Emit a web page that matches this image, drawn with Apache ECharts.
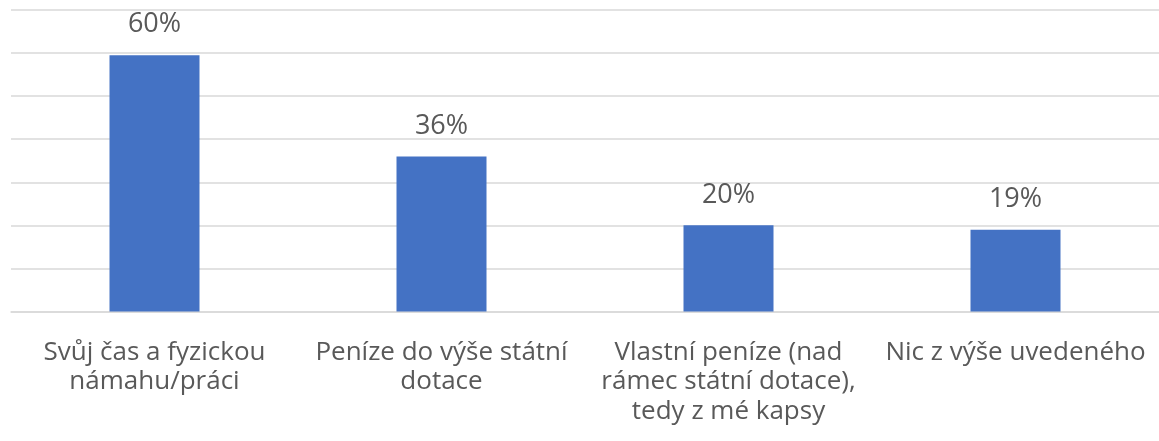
<!DOCTYPE html>
<html><head><meta charset="utf-8">
<style>html,body{margin:0;padding:0;background:#fff}#c{width:1159px;height:441px}</style>
<script src="https://cdn.jsdelivr.net/npm/echarts@6/dist/echarts.min.js"></script>
</head><body><div id="c"></div>
<script>
const categories = [
  "Svůj čas a fyzickou\nnámahu/práci",
  "Peníze do výše státní\ndotace",
  "Vlastní peníze (nad\nrámec státní dotace),\ntedy z mé kapsy",
  "Nic z výše uvedeného"
];
const values = [59.5, 36, 20, 19];
const yTicks = [0, 10, 20, 30, 40, 50, 60, 70];

const chart = echarts.init(document.getElementById('c'), null, {renderer: 'canvas'});
chart.setOption({
  animation: false,
  grid: {left: 11, right: 0, top: 10, bottom: 129.5, containLabel: false},
  xAxis: {
    type: 'category', data: categories,
    axisLine: {lineStyle: {color: '#d9d9d9', width: 1.5}},
    axisTick: {show: false},
    axisLabel: {color: '#595959', fontSize: 26, fontFamily: '"Open Sans", Lato, sans-serif', lineHeight: 29.5, margin: 26, interval: 0}
  },
  yAxis: {
    type: 'value', min: yTicks[0], max: yTicks[yTicks.length - 1], interval: 10,
    axisLabel: {show: false}, axisLine: {show: false}, axisTick: {show: false},
    splitLine: {lineStyle: {color: '#d9d9d9', width: 1.5}}
  },
  series: [{
    type: 'bar', data: values, barWidth: 90,
    itemStyle: {color: '#4472C4'},
    label: {show: true, position: 'top', distance: 17, color: '#595959', fontSize: 27,
      fontFamily: '"Open Sans", Lato, sans-serif',
      formatter: p => Math.round(p.value) + '%'}
  }]
});
</script></body></html>
